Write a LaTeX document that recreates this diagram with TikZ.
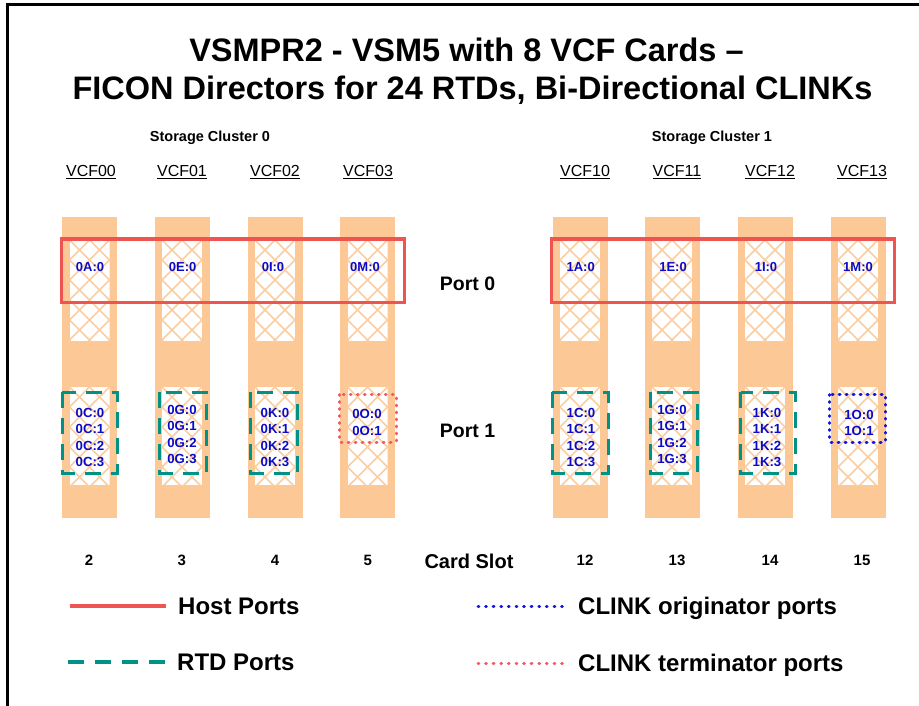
\documentclass[tikz,border=0pt]{standalone}
\usepackage{fontspec}
\setmainfont{Liberation Sans}
\definecolor{barc}{RGB}{252,200,150}
\definecolor{hatchc}{RGB}{250,206,162}
\definecolor{hostred}{RGB}{240,84,80}
\definecolor{rtdgreen}{RGB}{0,146,135}
\definecolor{origblue}{RGB}{20,20,220}
\definecolor{termred}{RGB}{240,90,100}
\definecolor{lblblue}{RGB}{10,10,200}
\newcommand{\fs}[1]{\fontsize{#1}{#1}\selectfont}
\newcommand{\xpanel}[3]{%
  \begin{scope}
    \clip (#1-20,#2) rectangle (#1+20,#3);
    \fill[white] (#1-20,#2) rectangle (#1+20,#3);
    \foreach \d in {-160,-140,...,160} {
      \draw[hatchline] (#1+\d,#2) -- ++(120,120);
      \draw[hatchline] (#1+\d,#2) -- ++(-120,120);
    }
  \end{scope}}
\tikzset{
  hatchline/.style={draw=hatchc,line width=1.5pt},
  hostbox/.style={draw=hostred,line width=3.3pt},
  rtdbox/.style={draw=rtdgreen,line width=3.2pt,dash pattern=on 16pt off 10pt},
  origbox/.style={draw=origblue,line width=3pt,line cap=round,dash pattern=on 0.8pt off 6.2pt},
  termbox/.style={draw=termred,line width=3pt,line cap=round,dash pattern=on 0.8pt off 6.2pt},
  portlbl/.style={text=lblblue,font=\bfseries\fontsize{13}{13}\selectfont,inner sep=0pt},
  portstack/.style={text=lblblue,font=\bfseries\fontsize{13.2}{16.2}\selectfont,inner sep=0pt,align=center},
  vcflbl/.style={anchor=base,font=\fs{16},inner sep=0pt},
  slotlbl/.style={anchor=base,font=\bfseries\fs{15},inner sep=0pt},
  legtext/.style={anchor=base west,font=\bfseries\fs{24},inner sep=0pt},
}
\begin{document}
\begin{tikzpicture}[x=1pt,y=-1pt]
\useasboundingbox (0,0) rectangle (919,706);
\fill[white] (0,0) rectangle (919,706);
% frame
\draw[line width=3pt] (7.5,706) -- (7.5,5) -- (919,5);
% title
\node[anchor=base,font=\bfseries\fs{32.5},inner sep=0pt] (t1) at (466.5,61.5) {VSMPR2 - VSM5 with 8 VCF Cards –};
\node[anchor=base,font=\bfseries\fs{32.5},inner sep=0pt] (t2) at (472.5,100) {FICON Directors for 24 RTDs, Bi-Directional CLINKs};
\node[anchor=base,font=\bfseries\fs{14.5},inner sep=0pt] (sc0) at (210,142) {Storage Cluster 0};
\node[anchor=base,font=\bfseries\fs{14.5},inner sep=0pt] (sc1) at (712,142) {Storage Cluster 1};
% VCF labels
\foreach \x/\t in {91/VCF00,182/VCF01,275/VCF02,368/VCF03,585/VCF10,677/VCF11,770/VCF12,862/VCF13}
  \node[vcflbl] (\t) at (\x,176.5) {\underline{\t}};
% bars and hatched panels
\foreach \c in {89.5,182,275,367.5,580,672,765,858} {
  \fill[barc] (\c-27.5,217) rectangle (\c+27.5,518);
  \xpanel{\c}{240}{341}
  \xpanel{\c}{387}{485}
}
% host port boxes
\draw[hostbox] (61.7,239) rectangle (404.3,302.3);
\draw[hostbox] (551.7,239) rectangle (894.3,302.3);
% port 0 labels
\foreach \x/\t/\n in {90/0A:0/pa,182.7/0E:0/pe,273/0I:0/pi,365/0M:0/pm,580.7/1A:0/qa,673/1E:0/qe,766/1I:0/qi,858/1M:0/qm}
  \node[portlbl] (\n) at (\x,267) {\t};
% RTD boxes
\draw[rtdbox] (62.2,392.2) rectangle (117.8,473.5);
\draw[rtdbox] (159.8,392.2) rectangle (206.8,473.5);
\draw[rtdbox] (250.8,392.2) rectangle (297.5,473.5);
\draw[rtdbox] (552.2,392.2) rectangle (608.5,473.5);
\draw[rtdbox] (650.5,392.2) rectangle (697.2,473.5);
\draw[rtdbox] (740.5,392.2) rectangle (795.2,473.5);
% CLINK boxes
\draw[termbox] (339.6,394.6) rectangle (396,442);
\draw[origbox] (829.6,394.6) rectangle (885.4,442);
% port 1 labels
\node[portstack] (pc) at (90,437.5) {0C:0\\0C:1\\0C:2\\0C:3};
\node[portstack] (pg) at (182,434.5) {0G:0\\0G:1\\0G:2\\0G:3};
\node[portstack] (pk) at (275,437.5) {0K:0\\0K:1\\0K:2\\0K:3};
\node[portstack] (po) at (367,422.5) {0O:0\\0O:1};
\node[portstack] (qc) at (581,437.5) {1C:0\\1C:1\\1C:2\\1C:3};
\node[portstack] (qg) at (672,434.5) {1G:0\\1G:1\\1G:2\\1G:3};
\node[portstack] (qk) at (767,437.5) {1K:0\\1K:1\\1K:2\\1K:3};
\node[portstack] (qo) at (859,422.6) {1O:0\\1O:1};
% port names
\node[anchor=base,font=\bfseries\fs{19.5},inner sep=0pt] (port0) at (467.5,290) {Port 0};
\node[anchor=base,font=\bfseries\fs{19.5},inner sep=0pt] (port1) at (467.5,437.5) {Port 1};
% slots
\foreach \x/\t in {89/2,181.7/3,275/4,367.7/5,585/12,677/13,770/14,862/15}
  \node[slotlbl] (slot\t) at (\x,565) {\t};
\node[anchor=base,font=\bfseries\fs{20},inner sep=0pt] (cardslot) at (469,568) {Card Slot};
% legend
\node[legtext] (lhost) at (178,614.5) {Host Ports};
\node[legtext] (lrtd) at (177,670.5) {RTD Ports};
\node[legtext] (lorig) at (578,614.5) {CLINK originator ports};
\node[legtext] (lterm) at (578,671) {CLINK terminator ports};
\coordinate (hs) at (70,606);
\coordinate (rs) at (68,662);
\coordinate (os) at (478,606);
\coordinate (ts) at (478,663);
\draw[draw=hostred,line width=4pt] (hs) -- (166,606);
\draw[draw=rtdgreen,line width=4pt,dash pattern=on 16pt off 11pt] (rs) -- (166,662);
\draw[draw=origblue,line width=3pt,line cap=round,dash pattern=on 0.8pt off 6.8pt] (os) -- (569,606);
\draw[draw=termred,line width=3pt,line cap=round,dash pattern=on 0.8pt off 6.8pt] (ts) -- (569,663);
\end{tikzpicture}
\end{document}
